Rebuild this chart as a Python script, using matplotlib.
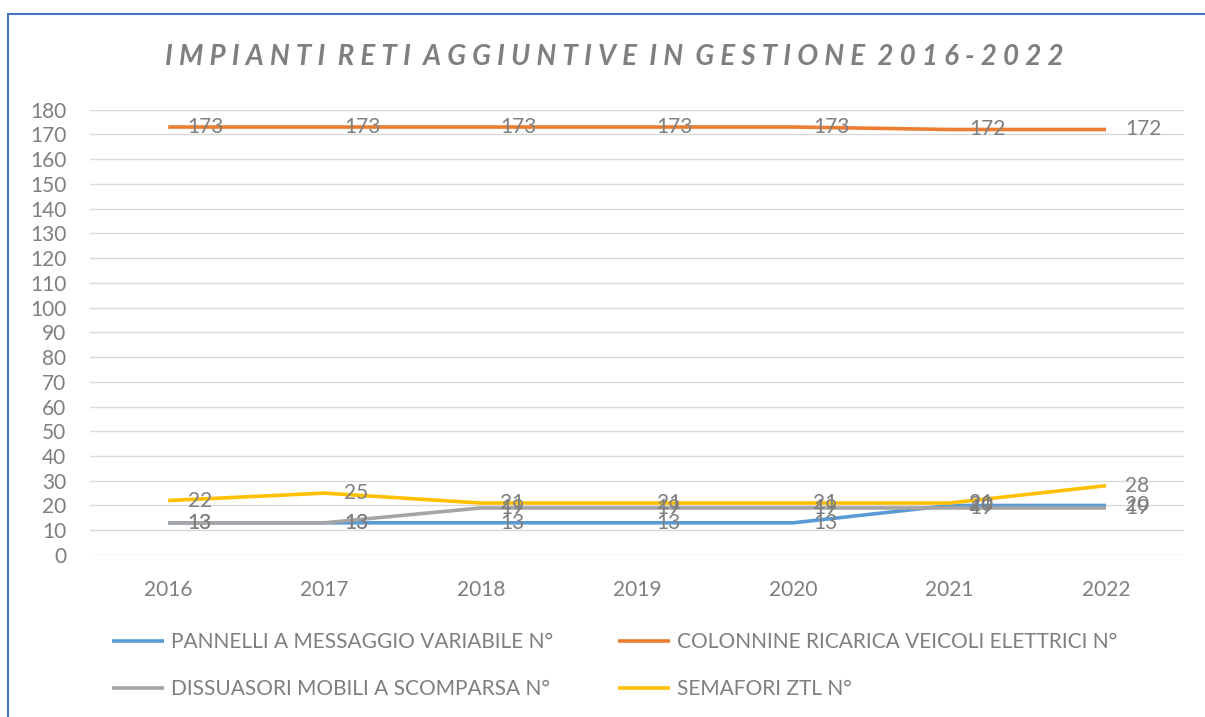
import matplotlib.pyplot as plt
from matplotlib.patches import Rectangle

plt.rcParams['font.family'] = ['Lato', 'DejaVu Sans']

years = ["2016", "2017", "2018", "2019", "2020", "2021", "2022"]
pannelli = [13, 13, 13, 13, 13, 20, 20]
colonnine = [173, 173, 173, 173, 173, 172, 172]
dissuasori = [13, 13, 19, 19, 19, 19, 19]
semafori = [22, 25, 21, 21, 21, 21, 28]

series = [
    ("PANNELLI A MESSAGGIO VARIABILE N°", pannelli, "#5B9BD5"),
    ("COLONNINE RICARICA VEICOLI ELETTRICI N°", colonnine, "#ED7D31"),
    ("DISSUASORI MOBILI A SCOMPARSA N°", dissuasori, "#A5A5A5"),
    ("SEMAFORI ZTL N°", semafori, "#FFC000"),
]

fig = plt.figure(figsize=(12.05, 7.17), dpi=100)
ax = fig.add_axes([0.0747, 0.226, 0.908, 0.621])

x = range(len(years))
lines = []
for name, vals, col in series:
    ln, = ax.plot(x, vals, color=col, lw=2.6, label=name, solid_capstyle="butt")
    lines.append(ln)
for name, vals, col in series:
    for xi, v in zip(x, vals):
        ax.annotate(str(v), (xi, v), xytext=(14, 0), textcoords="offset points",
                    ha="left", va="center", fontsize=15, color="#7f7f7f")

ax.set_xlim(-0.5, len(years) - 0.5)
ax.set_ylim(0, 180)
ax.set_yticks(range(0, 181, 10))
ax.set_xticks(list(x))
ax.set_xticklabels(years)
ax.grid(axis="y", color="#d9d9d9", lw=1)
ax.set_axisbelow(True)
for s in ax.spines.values():
    s.set_visible(False)
ax.tick_params(length=0, labelsize=15, colors="#7f7f7f")
ax.tick_params(axis="x", pad=18)
ax.tick_params(axis="y", pad=17)

title = "  ".join(" ".join(w) for w in "IMPIANTI RETI AGGIUNTIVE IN GESTIONE 2016-2022".split())
fig.text(0.51, 0.921, title, ha="center", va="center", fontsize=20,
         fontstyle="italic", fontweight="bold", color="#7f7f7f")

# legend filled row by row like the original
order = [0, 2, 1, 3]
fig.legend([lines[i] for i in order], [series[i][0] for i in order],
           loc="center left", bbox_to_anchor=(0.077, 0.072), ncol=2, frameon=False,
           fontsize=15, handlelength=2.5, handletextpad=0.35, columnspacing=3.1,
           labelspacing=1.3, labelcolor="#7f7f7f")

fig.add_artist(Rectangle((8 / 1205, -0.1), 1.2, 1.1 - 14 / 717,
                         transform=fig.transFigure, fill=False,
                         edgecolor="#4472C4", lw=1.5))

fig.savefig("out.png", dpi=100)
